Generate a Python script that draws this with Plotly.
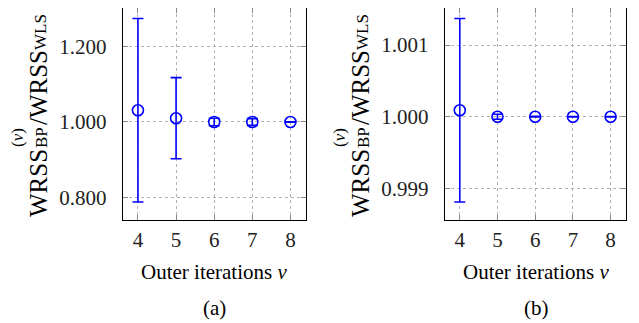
import plotly.graph_objects as go

iterations = [4, 5, 6, 7, 8]
ratio_a = [1.031, 1.010, 1.000, 1.000, 1.000]
err_a = [0.242, 0.107, 0.010, 0.009, 0.0005]
ratio_b = [1.00009, 1.00000, 1.00000, 1.00000, 1.00000]
err_b = [0.00128, 0.000035, 0.000004, 0.000003, 0.000002]
yticks_a = [0.8, 1.0, 1.2]
yticklabels_a = ["0.800", "1.000", "1.200"]
yticks_b = [0.999, 1.000, 1.001]
yticklabels_b = ["0.999", "1.000", "1.001"]

# page body has an 8px default margin: figure drawn at screen offset (8, 8)
OFF = 8
W, H = 631, 315
BLUE = "#0000ff"
SERIF = "Liberation Serif"

fig = go.Figure()
for i, (yv, ev) in enumerate([(ratio_a, err_a), (ratio_b, err_b)]):
    sfx = "" if i == 0 else "2"
    fig.add_trace(go.Scatter(
        x=iterations, y=yv, mode="markers",
        xaxis="x" + sfx, yaxis="y" + sfx,
        marker=dict(symbol="circle-open", size=11, color=BLUE, line=dict(width=1.6, color=BLUE)),
        error_y=dict(type="data", array=ev, visible=True, color=BLUE, thickness=1.6, width=5.5),
        showlegend=False,
    ))

def px_x(p):
    return (p - OFF) / W

def px_y(p):
    return 1 - (p - OFF) / H

xdom_a = [px_x(122.7), px_x(305.7)]
xdom_b = [px_x(444.7), px_x(625.7)]
ydom = [px_y(220.3), 1.0]

axis_common = dict(
    showline=True, linecolor="black", linewidth=1.2, mirror="allticks",
    ticks="inside", ticklen=5, tickcolor="#888888", tickwidth=1,
    showgrid=True, gridcolor="#b0b0b0", griddash="dot", gridwidth=1,
    zeroline=False, tickfont=dict(family=SERIF, size=21, color="#222222"),
)

fig.update_layout(
    width=W, height=H, autosize=False,
    margin=dict(l=0, r=0, t=0, b=0),
    paper_bgcolor="white", plot_bgcolor="white",
    font=dict(family=SERIF),
    xaxis=dict(domain=xdom_a, range=[3.6, 8.4], tickvals=iterations, anchor="y", ticklabelstandoff=0, **axis_common),
    yaxis=dict(domain=ydom, range=[0.7406, 1.3008], tickvals=yticks_a, ticktext=yticklabels_a, anchor="x", ticklabelstandoff=11, **axis_common),
    xaxis2=dict(domain=xdom_b, range=[3.6, 8.4], tickvals=iterations, anchor="y2", ticklabelstandoff=0, **axis_common),
    yaxis2=dict(domain=ydom, range=[0.998555, 1.001516], tickvals=yticks_b, ticktext=yticklabels_b, anchor="x2", ticklabelstandoff=11, **axis_common),
)

annotations = []

def add_text(text, x, y, size, angle=0):
    annotations.append(dict(
        text=text, x=px_x(x), y=px_y(y), xref="paper", yref="paper",
        xanchor="center", yanchor="middle", showarrow=False, textangle=angle,
        font=dict(family=SERIF, size=size, color="black"),
    ))

for off, label in [(0, "(a)"), (322, "(b)")]:
    # y-axis title pieces (rotated)
    add_text("WRSS", 38 + off, 183, 25, -90)
    add_text("(<i>ν</i>)", 17 + off, 138, 17, -90)
    add_text("BP", 41 + off, 138, 17, -90)
    add_text("/WRSS", 38 + off, 88, 25, -90)
    add_text("WLS", 41 + off, 32, 17, -90)
    # x-axis title
    add_text("Outer iterations <i>ν</i>", 214 + off, 272, 21)
    add_text(label, 214 + off, 308, 21)

fig.update_layout(annotations=annotations)
fig.write_html("out.html")
